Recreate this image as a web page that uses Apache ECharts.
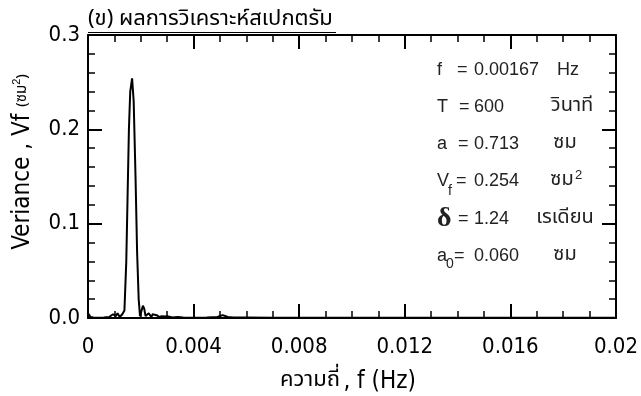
<!DOCTYPE html>
<html>
<head>
<meta charset="utf-8">
<script src="https://cdn.jsdelivr.net/npm/echarts@6/dist/echarts.min.js"></script>
<style>
html,body{margin:0;padding:0;background:#fff;}
#chart{width:641px;height:396px;}
</style>
</head>
<body>
<div id="chart"></div>
<script>
// ---- data ----
const freq = [0, 0.0001, 0.0002, 0.0004, 0.0006, 0.0008, 0.00095, 0.00105, 0.00112, 0.0012, 0.0013, 0.00138,
  0.00145, 0.0015, 0.00155, 0.0016, 0.00167, 0.00173, 0.0018, 0.00186, 0.00192, 0.00197, 0.00203, 0.00208,
  0.00213, 0.00218, 0.00225, 0.0023, 0.00236, 0.0024, 0.00245, 0.0025, 0.0026, 0.0027, 0.0028, 0.0029, 0.003,
  0.0032, 0.0034, 0.0036, 0.004, 0.0045, 0.0049, 0.0051, 0.0053, 0.0055, 0.006, 0.007, 0.008, 0.01, 0.012,
  0.014, 0.016, 0.018, 0.02];
const variance = [0.005, 0.001, 0.0005, 0.0003, 0.0005, 0.001, 0.004, 0.002, 0.005, 0.001, 0.004, 0.008,
  0.06, 0.13, 0.20, 0.24, 0.254, 0.23, 0.15, 0.07, 0.02, 0.002, 0.008, 0.013,
  0.01, 0.002, 0.001, 0.005, 0.003, 0.001, 0.004, 0.002, 0.003, 0.001, 0.002, 0.0015, 0.002,
  0.0005, 0.001, 0.0005, 0.0003, 0.0005, 0.001, 0.003, 0.001, 0.0005, 0.0005, 0.0003, 0.0003, 0.0002, 0.0002,
  0.0002, 0.0002, 0.0002, 0.0002];
const xMin = 0, xMax = 0.02, xStep = 0.004;
const yMin = 0, yMax = 0.3, yStep = 0.1;
const titleText = '(ข) ผลการวิเคราะห์สเปกตรัม';
const infoSyms = ['f', 'T', 'a', 'V', 'δ', 'a'];
const infoSubs = ['', '', '', 'f', '', '0'];
const infoVals = ['0.00167', '600', '0.713', '0.254', '1.24', '0.060'];
const infoUnits = ['Hz', 'วินาที', 'ซม', 'ซม', 'เรเดียน', 'ซม'];
const infoSups = ['', '', '', '2', '', ''];

const NARROW = "'Liberation Sans Narrow', 'DejaVu Sans Condensed', sans-serif";
const THAI = "'Noto Sans Thai', 'Noto Sans Thai Looped', 'Noto Sans', 'DejaVu Sans', sans-serif";
const ARIAL = "'Liberation Sans', Arial, sans-serif";

const chart = echarts.init(document.getElementById('chart'));

function axisStyle(split) {
  return {
    axisLine: {show: true, onZero: false, lineStyle: {color: '#000', width: 2}},
    axisTick: {show: true, inside: true, length: 14, lineStyle: {color: '#000', width: 2}},
    minorTick: {show: true, splitNumber: split, length: 7, lineStyle: {color: '#000', width: 1.5}},
    splitLine: {show: false},
    minorSplitLine: {show: false}
  };
}

// info block graphics
const graphics = [];
const rowYs = [70, 107, 144, 181, 219, 256];
const eqX = [457, 459, 458, 456, 458, 454];
const unitX = [568, 572, 565, 562, 565, 565];
infoSyms.forEach((s, i) => {
  const y = rowYs[i];
  const isDelta = s === 'δ';
  graphics.push({type: 'text', x: 437, y: y, style: {
    text: s, fill: '#222', textVerticalAlign: 'middle',
    font: isDelta ? "bold 28px 'Liberation Serif', serif" : "18px " + ARIAL}});
  if (infoSubs[i]) {
    graphics.push({type: 'text', x: s === 'V' ? 448 : 446, y: y + (s === 'V' ? 10 : 8), style: {
      text: infoSubs[i], fill: '#222', font: "14px " + ARIAL, textVerticalAlign: 'middle'}});
  }
  graphics.push({type: 'text', x: eqX[i], y: y, style: {
    text: '=', fill: '#222', font: "18px " + ARIAL, textVerticalAlign: 'middle'}});
  graphics.push({type: 'text', x: 474, y: y, style: {
    text: infoVals[i], fill: '#222', font: "18px " + ARIAL, textVerticalAlign: 'middle'}});
  graphics.push({type: 'text', x: unitX[i], y: y, style: {
    text: infoUnits[i], fill: '#222', font: (infoUnits[i] === 'Hz' ? "18px " + ARIAL : "20px " + THAI),
    textAlign: 'center', textVerticalAlign: 'middle'}});
  if (infoSups[i]) {
    graphics.push({type: 'text', x: 575, y: y - 6, style: {
      text: infoSups[i], fill: '#222', font: "13px " + ARIAL, textVerticalAlign: 'middle'}});
  }
});

// title + underline
graphics.push({type: 'text', x: 88, y: 21, style: {text: titleText, fill: '#000', font: "22px " + THAI, textVerticalAlign: 'middle'}});
graphics.push({type: 'line', shape: {x1: 88, y1: 32.5, x2: 336, y2: 32.5}, style: {stroke: '#000', lineWidth: 1}});

// axis names
graphics.push({type: 'text', x: 348, y: 382, style: {
  text: '{th|ความถี่} {en|, f (Hz)}', textAlign: 'center', textVerticalAlign: 'middle',
  rich: {th: {font: "22px " + THAI, fill: '#000'}, en: {font: "24px " + NARROW, fill: '#000'}}}});
graphics.push({type: 'text', x: 23, y: 162, rotation: Math.PI / 2, style: {
  text: '{en|Veriance , Vf }{th|(ซม}{sup|2}{th|)}', textAlign: 'center', textVerticalAlign: 'middle',
  rich: {en: {font: "24px " + NARROW, fill: '#000', verticalAlign: 'middle'},
         th: {font: "15px " + THAI, fill: '#000', verticalAlign: 'middle'},
         sup: {font: "11px " + ARIAL, fill: '#000', verticalAlign: 'top'}}}});

const option = {
  animation: false,
  backgroundColor: '#fff',
  grid: {left: 88, right: 24, top: 35, bottom: 78, containLabel: false},
  xAxis: [
    Object.assign({type: 'value', min: xMin, max: xMax, interval: xStep, position: 'bottom',
      axisLabel: {show: true, margin: 18, color: '#000', fontSize: 22, fontFamily: NARROW,
        formatter: v => (v === 0 ? '0' : String(+v.toFixed(3)))}}, axisStyle(4)),
    Object.assign({type: 'value', min: xMin, max: xMax, interval: xStep, position: 'top',
      axisLabel: {show: false}}, axisStyle(4))
  ],
  yAxis: [
    Object.assign({type: 'value', min: yMin, max: yMax, interval: yStep, position: 'left',
      axisLabel: {show: true, margin: 8, color: '#000', fontSize: 22, fontFamily: NARROW,
        formatter: v => v.toFixed(1)}}, axisStyle(5)),
    Object.assign({type: 'value', min: yMin, max: yMax, interval: yStep, position: 'right',
      axisLabel: {show: false}}, axisStyle(5))
  ],
  series: [{
    type: 'line',
    data: freq.map((f, i) => [f, variance[i]]),
    showSymbol: false,
    symbol: 'none',
    lineStyle: {color: '#000', width: 2},
    xAxisIndex: 0, yAxisIndex: 0
  }],
  graphic: graphics
};
chart.setOption(option);
</script>
</body>
</html>
